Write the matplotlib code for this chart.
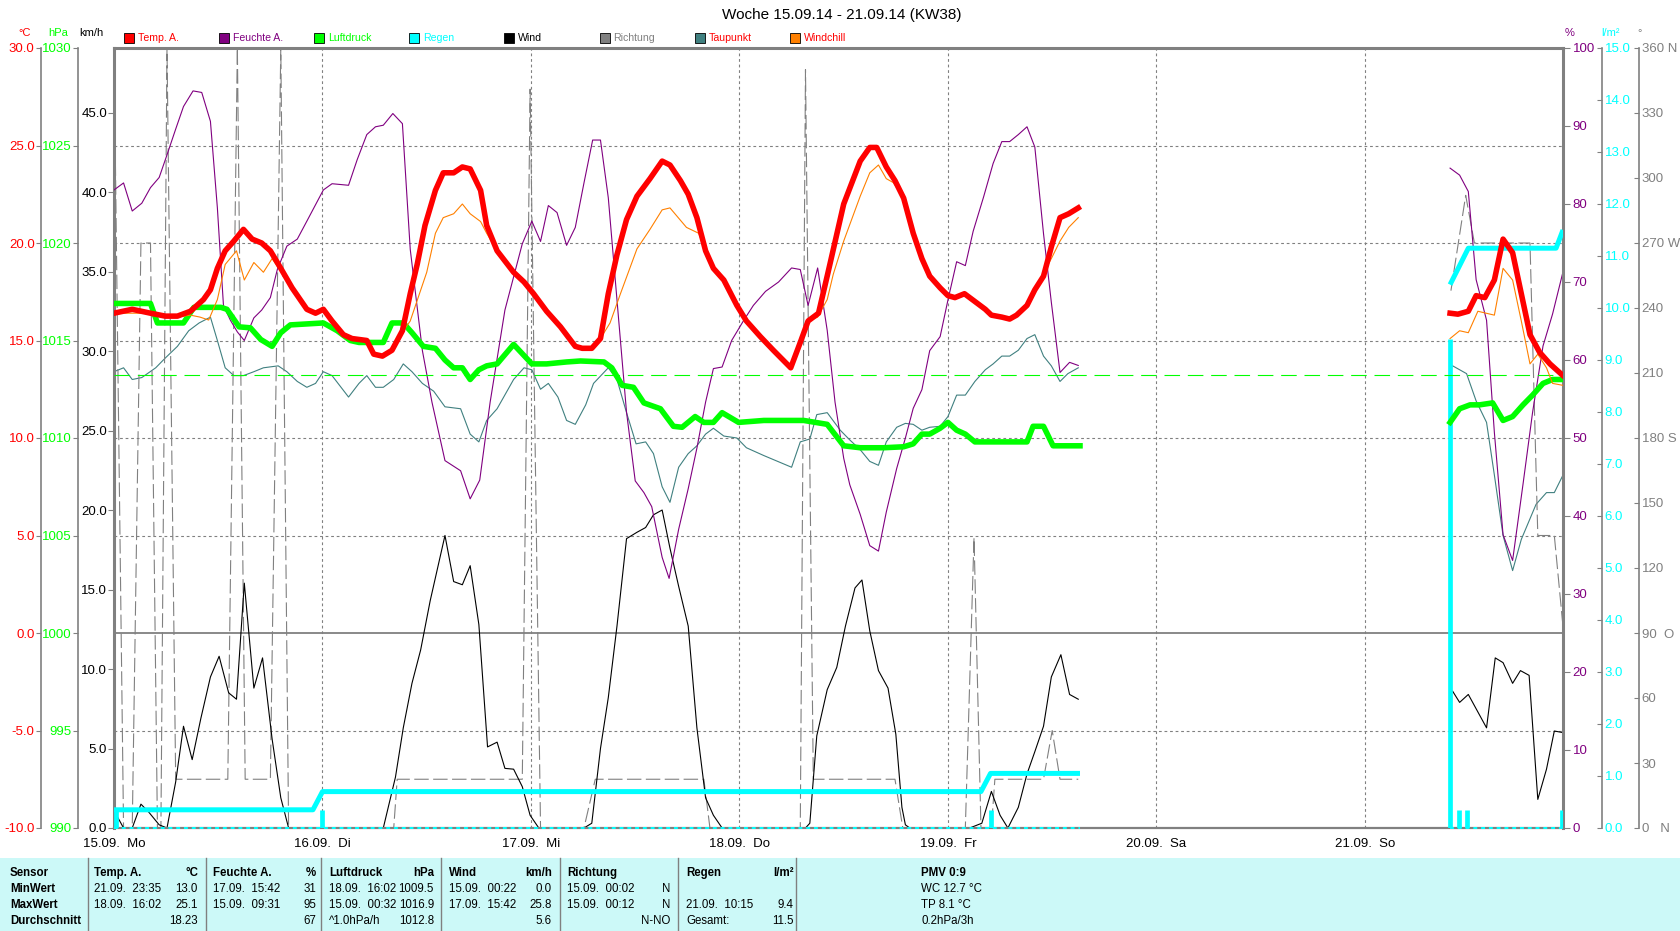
import matplotlib
matplotlib.use("Agg")
import matplotlib.pyplot as plt
import numpy as np
from matplotlib.patches import Rectangle
from matplotlib.lines import Line2D

GAP = (np.nan, np.nan)

# (Stunden ab 15.09.14 00:00, Wert)
temp = [(0.0, 16.4), (2.1, 16.6), (4.2, 16.4), (5.9, 16.25), (7.3, 16.25), (8.8, 16.5), (10.3, 17.1),
        (11.1, 17.6), (11.9, 18.7), (12.8, 19.6), (13.8, 20.1), (14.9, 20.7), (15.9, 20.2), (17.0, 20.0),
        (18.0, 19.6), (19.2, 18.7), (20.5, 17.7), (22.2, 16.6), (23.2, 16.4), (24.1, 16.6), (25.1, 16.0),
        (26.4, 15.3), (27.4, 15.1), (29.1, 15.0), (29.9, 14.3), (30.9, 14.2), (32.0, 14.5), (33.2, 15.5),
        (34.1, 17.4), (34.9, 18.9), (35.8, 20.9), (37.0, 22.7), (37.9, 23.6), (39.1, 23.6), (40.1, 23.9),
        (41.0, 23.8), (42.2, 22.7), (42.9, 20.9), (44.1, 19.6), (46.0, 18.5), (47.2, 18.0), (48.3, 17.4),
        (49.8, 16.5), (51.4, 15.7), (53.1, 14.7), (53.9, 14.6), (55.0, 14.6), (56.0, 15.1), (56.9, 17.4),
        (57.9, 19.4), (59.0, 21.2), (60.2, 22.4), (61.7, 23.3), (63.1, 24.2), (64.0, 24.0), (65.2, 23.2),
        (66.1, 22.5), (67.1, 21.3), (68.1, 19.6), (69.0, 18.7), (70.2, 18.1), (71.7, 16.8), (72.8, 16.0),
        (74.4, 15.2), (75.9, 14.5), (77.9, 13.6), (79.0, 14.9), (79.9, 16.0), (81.1, 16.4), (82.2, 18.5),
        (84.0, 22.0), (85.9, 24.2), (87.0, 24.9), (87.8, 24.9), (88.9, 23.9), (89.9, 23.2), (90.9, 22.3),
        (92.0, 20.5), (93.0, 19.2), (93.9, 18.3), (95.1, 17.7), (96.0, 17.3), (96.8, 17.2), (97.9, 17.4),
        (99.1, 17.0), (100.3, 16.6), (101.0, 16.3), (102.2, 16.2), (103.1, 16.1), (103.9, 16.3),
        (105.1, 16.8), (106.0, 17.6), (107.0, 18.3), (107.9, 19.8), (108.9, 21.3), (109.9, 21.5),
        (111.0, 21.8), GAP,
        (153.8, 16.4), (154.7, 16.35), (155.9, 16.5), (156.8, 17.3), (157.8, 17.2), (158.9, 18.1),
        (159.9, 20.2), (161.0, 19.5), (162.0, 17.4), (163.0, 15.3), (164.1, 14.4), (165.3, 13.8),
        (166.8, 13.2)]

windchill = [(0.0, 16.4), (4.2, 16.4), (7.3, 16.2), (8.8, 16.3), (9.9, 16.2), (10.9, 16.05), (11.9, 17.1),
             (12.8, 18.9), (14.1, 19.6), (15.0, 18.1), (16.1, 19.0), (17.2, 18.5), (18.2, 19.2), (18.8, 18.8),
             (19.2, 18.7), (20.5, 17.7), (22.2, 16.6), (23.2, 16.4), (24.1, 16.6), (25.1, 16.0), (26.4, 15.3),
             (27.4, 15.1), (29.1, 15.0), (29.9, 14.3), (30.9, 14.2), (32.0, 14.5), (33.0, 15.3), (34.1, 16.0),
             (36.0, 18.5), (37.0, 20.5), (37.9, 21.3), (39.1, 21.5), (40.1, 22.0), (41.0, 21.5), (42.2, 21.1),
             (42.9, 20.5), (44.1, 19.6), (46.0, 18.5), (47.2, 18.0), (48.3, 17.4), (49.8, 16.5), (51.4, 15.7),
             (53.1, 14.7), (53.9, 14.6), (55.0, 14.6), (56.0, 15.1), (57.1, 15.9), (58.3, 17.4), (60.2, 19.7),
             (61.7, 20.7), (63.1, 21.7), (64.0, 21.8), (65.9, 20.8), (67.3, 20.5), (68.1, 19.6), (69.0, 18.7),
             (70.2, 18.1), (71.7, 16.8), (72.8, 16.0), (74.4, 15.2), (75.9, 14.5), (77.9, 13.6), (79.0, 14.9),
             (79.9, 16.0), (81.0, 16.2), (82.1, 17.1), (82.8, 18.4), (84.0, 20.1), (85.9, 22.4), (87.0, 23.6),
             (88.0, 24.0), (88.9, 23.3), (89.7, 23.1), (90.9, 22.3), (92.0, 20.5), (93.0, 19.2), (93.9, 18.3),
             (95.1, 17.7), (96.0, 17.3), (96.8, 17.2), (97.9, 17.4), (99.1, 17.0), (100.3, 16.6), (101.0, 16.3),
             (102.2, 16.2), (103.1, 16.1), (103.9, 16.3), (105.1, 16.8), (106.0, 17.6), (106.8, 18.3),
             (107.9, 19.2), (108.9, 20.1), (109.9, 20.8), (111.0, 21.3), GAP,
             (153.8, 15.1), (154.9, 15.5), (155.9, 15.4), (157.0, 16.5), (158.9, 16.3), (159.9, 18.7),
             (161.0, 18.1), (162.0, 16.0), (163.0, 13.8), (163.9, 14.3), (164.9, 13.6), (165.6, 12.8),
             (166.8, 12.7)]

humidity = [(0.0, 81.8), (1.1, 82.7), (2.1, 79.1), (3.2, 80.1), (4.2, 82.1), (5.2, 83.4), (6.1, 86.3),
            (7.1, 89.6), (8.0, 92.5), (9.1, 94.5), (10.1, 94.3), (11.1, 90.6), (11.9, 79.5), (12.6, 67.0),
            (13.4, 65.1), (14.2, 63.6), (15.0, 62.5), (16.1, 65.4), (17.0, 66.4), (18.0, 68.0), (18.8, 71.6),
            (19.9, 74.6), (21.1, 75.5), (22.2, 77.8), (24.1, 81.8), (25.1, 82.6), (27.0, 82.4), (28.0, 85.7),
            (29.1, 88.9), (30.1, 89.9), (31.0, 90.1), (32.1, 91.6), (33.2, 90.3), (34.1, 74.2), (35.5, 61.2),
            (36.6, 54.6), (38.1, 47.1), (39.9, 45.8), (41.0, 42.2), (42.1, 44.6), (43.3, 54.6), (45.0, 66.4),
            (47.0, 74.9), (48.1, 77.8), (49.1, 75.2), (50.0, 79.8), (51.0, 78.9), (52.1, 74.7), (53.1, 77.0),
            (54.1, 82.7), (55.1, 88.2), (56.0, 88.2), (56.9, 80.8), (57.9, 67.7), (59.0, 53.3), (60.0, 44.5),
            (61.0, 43.0), (61.9, 41.2), (63.1, 34.7), (63.9, 32.0), (65.0, 38.3), (66.1, 43.5), (67.1, 48.7),
            (68.1, 54.6), (69.0, 58.9), (70.0, 59.1), (71.1, 62.5), (72.5, 65.1), (73.6, 67.0), (75.0, 68.8),
            (76.5, 70.0), (78.0, 71.8), (79.0, 71.6), (79.9, 67.0), (81.0, 71.8), (82.1, 63.8), (83.0, 54.6),
            (84.0, 47.4), (84.7, 44.0), (85.9, 40.2), (87.0, 36.2), (88.0, 35.5), (88.9, 40.5), (90.1, 46.1),
            (91.1, 50.0), (92.0, 53.8), (93.0, 56.2), (93.9, 61.2), (95.1, 63.0), (96.0, 67.7), (97.0, 72.6),
            (98.0, 72.1), (98.9, 76.5), (100.1, 80.9), (101.2, 85.2), (102.2, 88.0), (103.1, 88.0),
            (104.1, 88.9), (105.1, 89.9), (106.0, 87.3), (107.0, 76.2), (107.9, 67.4), (108.9, 58.4),
            (110.0, 59.7), (111.0, 59.3), GAP,
            (153.8, 84.6), (154.9, 83.7), (155.9, 81.6), (156.8, 70.3), (158.0, 65.1), (158.9, 50.7),
            (159.9, 37.6), (161.0, 34.3), (162.2, 44.1), (163.3, 53.3), (164.5, 61.8), (165.6, 65.9),
            (166.8, 71.3)]

pressure = [(0.0, 1016.9), (4.2, 1016.9), (5.0, 1015.9), (8.0, 1015.9), (9.2, 1016.7), (12.3, 1016.7),
            (13.0, 1016.6), (14.4, 1015.7), (15.7, 1015.65), (16.9, 1015.05), (18.2, 1014.7), (19.2, 1015.4),
            (20.3, 1015.8), (24.1, 1015.9), (25.7, 1015.5), (27.2, 1015.0), (28.2, 1014.9), (31.0, 1014.9),
            (32.0, 1015.9), (33.3, 1015.9), (34.3, 1015.4), (35.6, 1014.7), (37.0, 1014.6), (38.1, 1014.0),
            (39.1, 1013.6), (40.1, 1013.6), (41.0, 1013.0), (42.0, 1013.5), (42.9, 1013.7), (44.1, 1013.8),
            (46.0, 1014.8), (48.1, 1013.8), (49.8, 1013.8), (52.1, 1013.9), (53.7, 1013.95), (56.4, 1013.9),
            (57.3, 1013.6), (58.5, 1012.7), (59.8, 1012.6), (61.0, 1011.8), (62.9, 1011.5), (64.4, 1010.6),
            (65.4, 1010.55), (66.9, 1011.1), (67.9, 1010.8), (69.0, 1010.8), (70.0, 1011.3), (71.9, 1010.8),
            (74.8, 1010.9), (79.4, 1010.9), (82.1, 1010.7), (84.0, 1009.6), (85.9, 1009.5), (88.6, 1009.5),
            (90.9, 1009.55), (92.0, 1009.7), (93.0, 1010.2), (93.9, 1010.2), (95.1, 1010.5), (96.0, 1010.8),
            (97.0, 1010.4), (98.0, 1010.2), (99.1, 1009.8), (100.5, 1009.8), (105.1, 1009.8), (105.8, 1010.6),
            (107.0, 1010.6), (108.1, 1009.6), (111.2, 1009.6), GAP,
            (153.8, 1010.8), (154.9, 1011.5), (156.1, 1011.7), (157.2, 1011.7), (158.7, 1011.8),
            (159.9, 1010.9), (161.0, 1011.1), (162.2, 1011.7), (163.3, 1012.2), (164.5, 1012.8),
            (165.6, 1013.0), (166.8, 1013.0)]

dewpoint = [(0.0, 13.4), (1.1, 13.6), (2.1, 13.0), (3.2, 13.1), (4.8, 13.6), (5.9, 14.1), (7.3, 14.7),
            (8.6, 15.5), (9.8, 15.9), (11.1, 16.2), (11.9, 15.0), (12.8, 13.6), (13.8, 13.2), (14.9, 13.2),
            (16.1, 13.4), (17.2, 13.6), (18.9, 13.7), (19.9, 13.4), (21.1, 12.9), (22.2, 12.6), (23.2, 12.8),
            (24.1, 13.4), (25.1, 13.2), (27.0, 12.1), (28.2, 12.8), (29.1, 13.2), (30.1, 12.6), (31.0, 12.6),
            (32.2, 13.0), (33.3, 13.8), (34.3, 13.4), (35.5, 12.8), (36.8, 12.4), (38.1, 11.6), (39.9, 11.5),
            (41.0, 10.2), (42.0, 9.8), (42.9, 10.9), (44.1, 11.5), (46.0, 13.0), (47.2, 13.6), (48.1, 13.5),
            (49.1, 12.5), (50.0, 12.8), (51.1, 12.1), (52.1, 10.9), (53.1, 10.7), (54.3, 11.7), (55.2, 12.8),
            (56.9, 13.6), (57.9, 13.0), (59.0, 11.3), (60.1, 9.7), (61.2, 9.8), (62.1, 9.2), (63.1, 7.5),
            (64.0, 6.7), (65.0, 8.5), (66.1, 9.2), (67.1, 9.6), (68.1, 10.2), (69.0, 10.5), (70.2, 10.1),
            (71.7, 10.0), (72.8, 9.5), (74.8, 9.1), (78.0, 8.5), (79.0, 9.8), (80.1, 9.95), (80.9, 11.2),
            (82.1, 11.3), (83.6, 10.4), (84.7, 9.9), (85.9, 9.4), (87.0, 8.8), (88.0, 8.6), (88.9, 9.8),
            (90.1, 10.55), (91.1, 10.75), (92.0, 10.7), (93.0, 10.4), (93.9, 10.55), (95.1, 10.6), (96.0, 11.1),
            (97.0, 12.2), (98.0, 12.2), (99.1, 12.9), (100.3, 13.5), (101.2, 13.8), (102.2, 14.2),
            (103.1, 14.2), (104.1, 14.5), (105.1, 15.1), (106.0, 15.3), (107.0, 14.2), (107.9, 13.7),
            (108.9, 12.9), (109.8, 13.3), (111.0, 13.6), GAP,
            (154.1, 13.7), (155.7, 13.3), (156.8, 11.9), (158.0, 10.8), (158.9, 8.1), (159.9, 5.0),
            (161.0, 3.2), (162.0, 4.8), (163.7, 6.6), (164.9, 7.2), (165.8, 7.2), (166.8, 8.1)]

wind = [(0.3, 0.8), (1.1, 0.0), (2.1, 0.0), (3.1, 1.5), (4.0, 1.0), (5.2, 0.2), (6.1, 0.0), (7.1, 2.9),
        (8.0, 6.4), (9.0, 4.3), (10.0, 6.9), (11.1, 9.5), (12.1, 10.8), (13.2, 8.5), (14.1, 8.1),
        (15.0, 15.4), (16.1, 8.8), (17.1, 10.7), (18.2, 5.6), (19.2, 1.9), (20.1, 0.0), (31.0, 0.0),
        (32.4, 3.2), (33.3, 6.3), (34.3, 9.1), (35.3, 11.2), (36.4, 14.3), (38.1, 18.4), (39.1, 15.5),
        (40.1, 15.3), (41.0, 16.5), (42.0, 12.8), (43.0, 5.1), (44.1, 5.4), (45.0, 3.75), (46.0, 3.7),
        (47.0, 2.6), (47.9, 0.8), (48.9, 0.0), (54.1, 0.0), (55.0, 0.3), (56.0, 5.0), (56.9, 8.2),
        (57.9, 12.7), (59.0, 18.2), (60.2, 18.6), (61.2, 18.9), (62.1, 19.7), (63.1, 20.0), (64.0, 17.6),
        (65.0, 15.2), (66.1, 12.7), (67.1, 6.3), (68.1, 1.9), (69.0, 0.8), (70.0, 0.0), (79.6, 0.0),
        (80.1, 0.3), (80.9, 5.8), (82.1, 8.7), (83.2, 10.1), (84.2, 12.7), (85.3, 15.1), (86.1, 15.6),
        (87.0, 12.4), (88.0, 9.9), (89.1, 8.8), (90.0, 5.9), (90.7, 1.3), (91.1, 0.2), (91.6, 0.0),
        (98.5, 0.0), (99.9, 0.3), (101.0, 2.3), (102.0, 0.8), (102.9, 0.0), (104.1, 1.3), (105.1, 3.4),
        (106.0, 4.8), (107.0, 6.4), (107.9, 9.5), (109.0, 10.9), (110.0, 8.4), (111.0, 8.1), GAP,
        (154.1, 8.6), (154.9, 7.9), (155.9, 8.4), (158.0, 6.3), (159.0, 10.7), (159.9, 10.4),
        (161.0, 9.1), (161.9, 9.9), (162.9, 9.6), (163.9, 1.8), (164.9, 3.7), (165.8, 6.1), (166.8, 6.0)]

direction = [(0.0, 360), (1.1, 0), (2.1, 0), (3.1, 270), (4.2, 270), (5.0, 0), (5.4, 0), (6.1, 360),
             (7.1, 22.5), (13.1, 22.5), (14.2, 360), (15.1, 22.5), (18.0, 22.5), (19.2, 360), (20.1, 0),
             (32.2, 0), (32.6, 22.5), (47.0, 22.5), (47.9, 341), (49.1, 0), (54.1, 0), (55.4, 22.5),
             (67.9, 22.5), (68.6, 0), (79.0, 0), (79.6, 350), (80.5, 22.5), (89.9, 22.5), (90.8, 0),
             (98.0, 0), (99.0, 134), (99.8, 0), (101.0, 0), (101.4, 22.5), (107.0, 22.5), (108.0, 45),
             (108.9, 22.5), (111.0, 22.5), GAP,
             (153.9, 248), (155.6, 292), (156.6, 270), (163.0, 270), (163.9, 135), (165.8, 135),
             (166.8, 93)]

rain_total = [(0.0, 0.35), (22.9, 0.35), (24.0, 0.70), (99.8, 0.70), (100.9, 1.05), (111.2, 1.05), GAP,
              (153.8, 10.45), (155.9, 11.15), (166.0, 11.15), (166.8, 11.5)]
rain_events = [(0.2, 0.35), (23.9, 0.35), (100.9, 0.35), (153.8, 9.4), (154.8, 0.35), (155.8, 0.35),
               (166.7, 0.35)]

days = ["15.09.  Mo", "16.09.  Di", "17.09.  Mi", "18.09.  Do", "19.09.  Fr", "20.09.  Sa", "21.09.  So"]
temp_ticks = [-10, -5, 0, 5, 10, 15, 20, 25, 30]
press_ticks = [990, 995, 1000, 1005, 1010, 1015, 1020, 1025, 1030]
wind_ticks = [0, 5, 10, 15, 20, 25, 30, 35, 40, 45]
hum_ticks = [0, 10, 20, 30, 40, 50, 60, 70, 80, 90, 100]
rain_ticks = list(range(0, 16))
dir_ticks = list(range(0, 361, 30))
dir_labels = ["0   N", "30", "60", "90  O", "120", "150", "180 S", "210", "240", "270 W", "300", "330", "360 N"]

legend_names = ["Temp. A.", "Feuchte A.", "Luftdruck", "Regen", "Wind", "Richtung", "Taupunkt", "Windchill"]

tbl_head = ["Temp. A.", "Feuchte A.", "Luftdruck", "Wind", "Richtung", "Regen"]
tbl_unit = ["°C", "%", "hPa", "km/h", "", "l/m²"]
tbl_min_when = ["21.09.  23:35", "17.09.  15:42", "18.09.  16:02", "15.09.  00:22", "15.09.  00:02", ""]
tbl_min_val = ["13.0", "31", "1009.5", "0.0", "N", ""]
tbl_max_when = ["18.09.  16:02", "15.09.  09:31", "15.09.  00:32", "17.09.  15:42", "15.09.  00:12", "21.09.  10:15"]
tbl_max_val = ["25.1", "95", "1016.9", "25.8", "N", "9.4"]
tbl_avg_when = ["", "", "^1.0hPa/h", "", "", "Gesamt:"]
tbl_avg_val = ["18.23", "67", "1012.8", "5.6", "N-NO", "11.5"]
pmv_lines = ["PMV 0:9", "WC 12.7 °C", "TP 8.1 °C", "0.2hPa/3h"]

RED, PURPLE, GREEN, CYAN = "#ff0000", "#800080", "#00ff00", "#00ffff"
GRAY, TEAL, ORANGE = "#808080", "#408080", "#ff8000"

plt.rcParams['font.family'] = ['Liberation Sans', 'DejaVu Sans']

W, H = 1680, 931
L, R, T, B = 114, 1563, 48, 828
XMAX = 166.8

fig = plt.figure(figsize=(W / 100, H / 100), dpi=100)
rect = [L / W, 1 - B / H, (R - L) / W, (B - T) / H]


def xy(series):
    a = np.array(series, dtype=float)
    return a[:, 0], a[:, 1]


def frac(xpx):
    return (xpx - L) / (R - L)


def ftext(x, y, s, **kw):
    kw.setdefault("va", "center")
    fig.text(x / W, 1 - y / H, s, **kw)


def layer(ylim):
    a = fig.add_axes(rect, sharex=ax)
    a.set_facecolor("none")
    a.set_ylim(*ylim)
    for s in a.spines.values():
        s.set_visible(False)
    a.tick_params(axis="x", bottom=False, labelbottom=False)
    a.tick_params(axis="y", left=False, labelleft=False, right=False, labelright=False)
    return a


# base layer: temperature scale, grid
ax = fig.add_axes(rect)
ax.set_xlim(0, XMAX)
ax.set_ylim(-10, 30)
for s in ax.spines.values():
    s.set_visible(False)
ax.spines["left"].set_visible(True)
ax.spines["left"].set_position(("axes", frac(41)))
ax.spines["left"].set_color(GRAY)
ax.spines["left"].set_linewidth(1.2)
ax.set_yticks(temp_ticks, [f"{v:.1f}" for v in temp_ticks])
ax.tick_params(axis="y", direction="out", length=3.6, width=0.8, color=GRAY,
               labelcolor=RED, labelsize=9.5, pad=1)
ax.set_xticks(range(0, 145, 24), days)
ax.tick_params(axis="x", length=0, pad=7, labelsize=9.5)

for v in [-5, 5, 10, 15, 20, 25]:
    ax.axhline(v, color=GRAY, lw=0.8, ls=(0, (2.5, 2.5)))
for d in range(24, 145, 24):
    ax.axvline(d, color=GRAY, lw=0.8, ls=(0, (2.5, 2.5)))
ax.axhline(0, color=GRAY, lw=1.3)

ax.plot(*xy(dewpoint), color=TEAL, lw=0.8)

# wind direction
ax_dir = layer((0, 360))
ax_dir.plot(*xy(direction), color=GRAY, lw=0.8, ls=(0, (13, 4)))
ax_dir.spines["right"].set_visible(True)
ax_dir.spines["right"].set_position(("axes", frac(1639)))
ax_dir.spines["right"].set_color(GRAY)
ax_dir.spines["right"].set_linewidth(1.2)
ax_dir.set_yticks(dir_ticks, dir_labels)
ax_dir.tick_params(axis="y", right=True, labelright=True, direction="in", length=3.6, width=0.8,
                   color=GRAY, labelcolor=GRAY, labelsize=9.5, pad=2)

# wind speed
ax_w = layer((0, 49.06))
ax_w.plot(*xy(wind), color="black", lw=0.8)
ax_w.spines["left"].set_visible(True)
ax_w.spines["left"].set_color(GRAY)
ax_w.spines["left"].set_linewidth(2.2)
ax_w.set_yticks(wind_ticks, [f"{v:.1f}" for v in wind_ticks])
ax_w.tick_params(axis="y", left=True, labelleft=True, direction="out", length=4, width=0.8,
                 color=GRAY, labelcolor="black", labelsize=9.5, pad=1)

# humidity
ax_h = layer((0, 100))
ax_h.plot(*xy(humidity), color=PURPLE, lw=0.8)
for side, lw in [("right", 2.2), ("top", 2.2), ("bottom", 1.6)]:
    ax_h.spines[side].set_visible(True)
    ax_h.spines[side].set_color(GRAY)
    ax_h.spines[side].set_linewidth(lw)
ax_h.set_yticks(hum_ticks, [str(v) for v in hum_ticks])
ax_h.tick_params(axis="y", right=True, labelright=True, direction="out", length=5, width=0.8,
                 color=GRAY, labelcolor=PURPLE, labelsize=9.5, pad=2)

# rain
ax_r = layer((0, 15))
rt, rv = xy(rain_total)
seg_edges = np.where(np.isnan(rt))[0]
starts = [0] + list(seg_edges + 1)
ends = list(seg_edges - 1) + [len(rt) - 1]
for s0, s1 in zip(starts, ends):
    ax_r.plot([rt[s0], rt[s1]], [0, 0], color=CYAN, lw=1.4, ls=(0, (2, 2)), clip_on=False)
ev_t, ev_v = xy(rain_events)
ax_r.vlines(ev_t, 0, ev_v, color=CYAN, lw=3.4)
ax_r.plot(rt, rv, color=CYAN, lw=3.6, solid_capstyle="butt")
ax_r.spines["right"].set_visible(True)
ax_r.spines["right"].set_position(("axes", frac(1602)))
ax_r.spines["right"].set_color(GRAY)
ax_r.spines["right"].set_linewidth(1.2)
ax_r.set_yticks(rain_ticks, [f"{v:.1f}" for v in rain_ticks])
ax_r.tick_params(axis="y", right=True, labelright=True, direction="in", length=3.6, width=0.8,
                 color=GRAY, labelcolor=CYAN, labelsize=9.5, pad=2)

# pressure
ax_p = layer((990, 1030))
ax_p.axhline(1013.25, color=GREEN, lw=0.8, ls=(0, (14, 7)))
ax_p.plot(*xy(pressure), color=GREEN, lw=4)
ax_p.spines["left"].set_visible(True)
ax_p.spines["left"].set_position(("axes", frac(78)))
ax_p.spines["left"].set_color(GRAY)
ax_p.spines["left"].set_linewidth(1.2)
ax_p.set_yticks(press_ticks, [str(v) for v in press_ticks])
ax_p.tick_params(axis="y", left=True, labelleft=True, direction="out", length=3.6, width=0.8,
                 color=GRAY, labelcolor=GREEN, labelsize=9.5, pad=1)

# temperature
ax_t = layer((-10, 30))
ax_t.plot(*xy(windchill), color=ORANGE, lw=0.8)
ax_t.plot(*xy(temp), color=RED, lw=4)

# title, units, legend
ftext(842, 15, "Woche 15.09.14 - 21.09.14 (KW38)", ha="center", fontsize=11)
ftext(25, 33, "°C", ha="center", color=RED, fontsize=8)
ftext(58, 33, "hPa", ha="center", color=GREEN, fontsize=8)
ftext(91, 33, "km/h", ha="center", color="black", fontsize=8)
ftext(1570, 33, "%", ha="center", color=PURPLE, fontsize=8)
ftext(1611, 33, "l/m²", ha="center", color=CYAN, fontsize=8)
ftext(1640, 33, "°", ha="center", color=GRAY, fontsize=8)

box_colors = [RED, PURPLE, GREEN, CYAN, "black", GRAY, TEAL, ORANGE]
text_colors = [RED, PURPLE, GREEN, CYAN, "black", GRAY, RED, RED]
for i, name in enumerate(legend_names):
    x0 = 124 + i * 95.1
    fig.add_artist(Rectangle((x0 / W, 1 - 43 / H), 10 / W, 10 / H, transform=fig.transFigure,
                             facecolor=box_colors[i], edgecolor="black", lw=0.6))
    ftext(x0 + 14, 38, name, ha="left", color=text_colors[i], fontsize=7.6)

# summary table
TOP = 858
fig.add_artist(Rectangle((0, 0), 1, (H - TOP) / H, transform=fig.transFigure,
                         facecolor="#ccf9f8", edgecolor="none"))
for xs in [88, 206, 321, 441, 560, 678, 796]:
    fig.add_artist(Line2D([xs / W, xs / W], [0, (H - TOP) / H], transform=fig.transFigure,
                          color=GRAY, lw=1))

rows_y = [873, 889, 905, 921]
for y, lab in zip(rows_y, ["Sensor", "MinWert", "MaxWert", "Durchschnitt"]):
    ftext(10, y, lab, ha="left", fontsize=8.3, fontweight="bold")

col_left = [94, 213, 329, 449, 567, 686]
col_right = [198, 316, 434, 552, 670, 794]
for i in range(6):
    ftext(col_left[i], rows_y[0], tbl_head[i], ha="left", fontsize=8.3, fontweight="bold")
    ftext(col_right[i], rows_y[0], tbl_unit[i], ha="right", fontsize=8.3, fontweight="bold")
    for y, when, val in [(rows_y[1], tbl_min_when[i], tbl_min_val[i]),
                         (rows_y[2], tbl_max_when[i], tbl_max_val[i]),
                         (rows_y[3], tbl_avg_when[i], tbl_avg_val[i])]:
        ftext(col_left[i], y, when, ha="left", fontsize=8.3)
        ftext(col_right[i], y, val, ha="right", fontsize=8.3)

for j, (y, s) in enumerate(zip(rows_y, pmv_lines)):
    ftext(921, y, s, ha="left", fontsize=8.3, fontweight="bold" if j == 0 else "normal")

fig.savefig("out.png", dpi=100)
